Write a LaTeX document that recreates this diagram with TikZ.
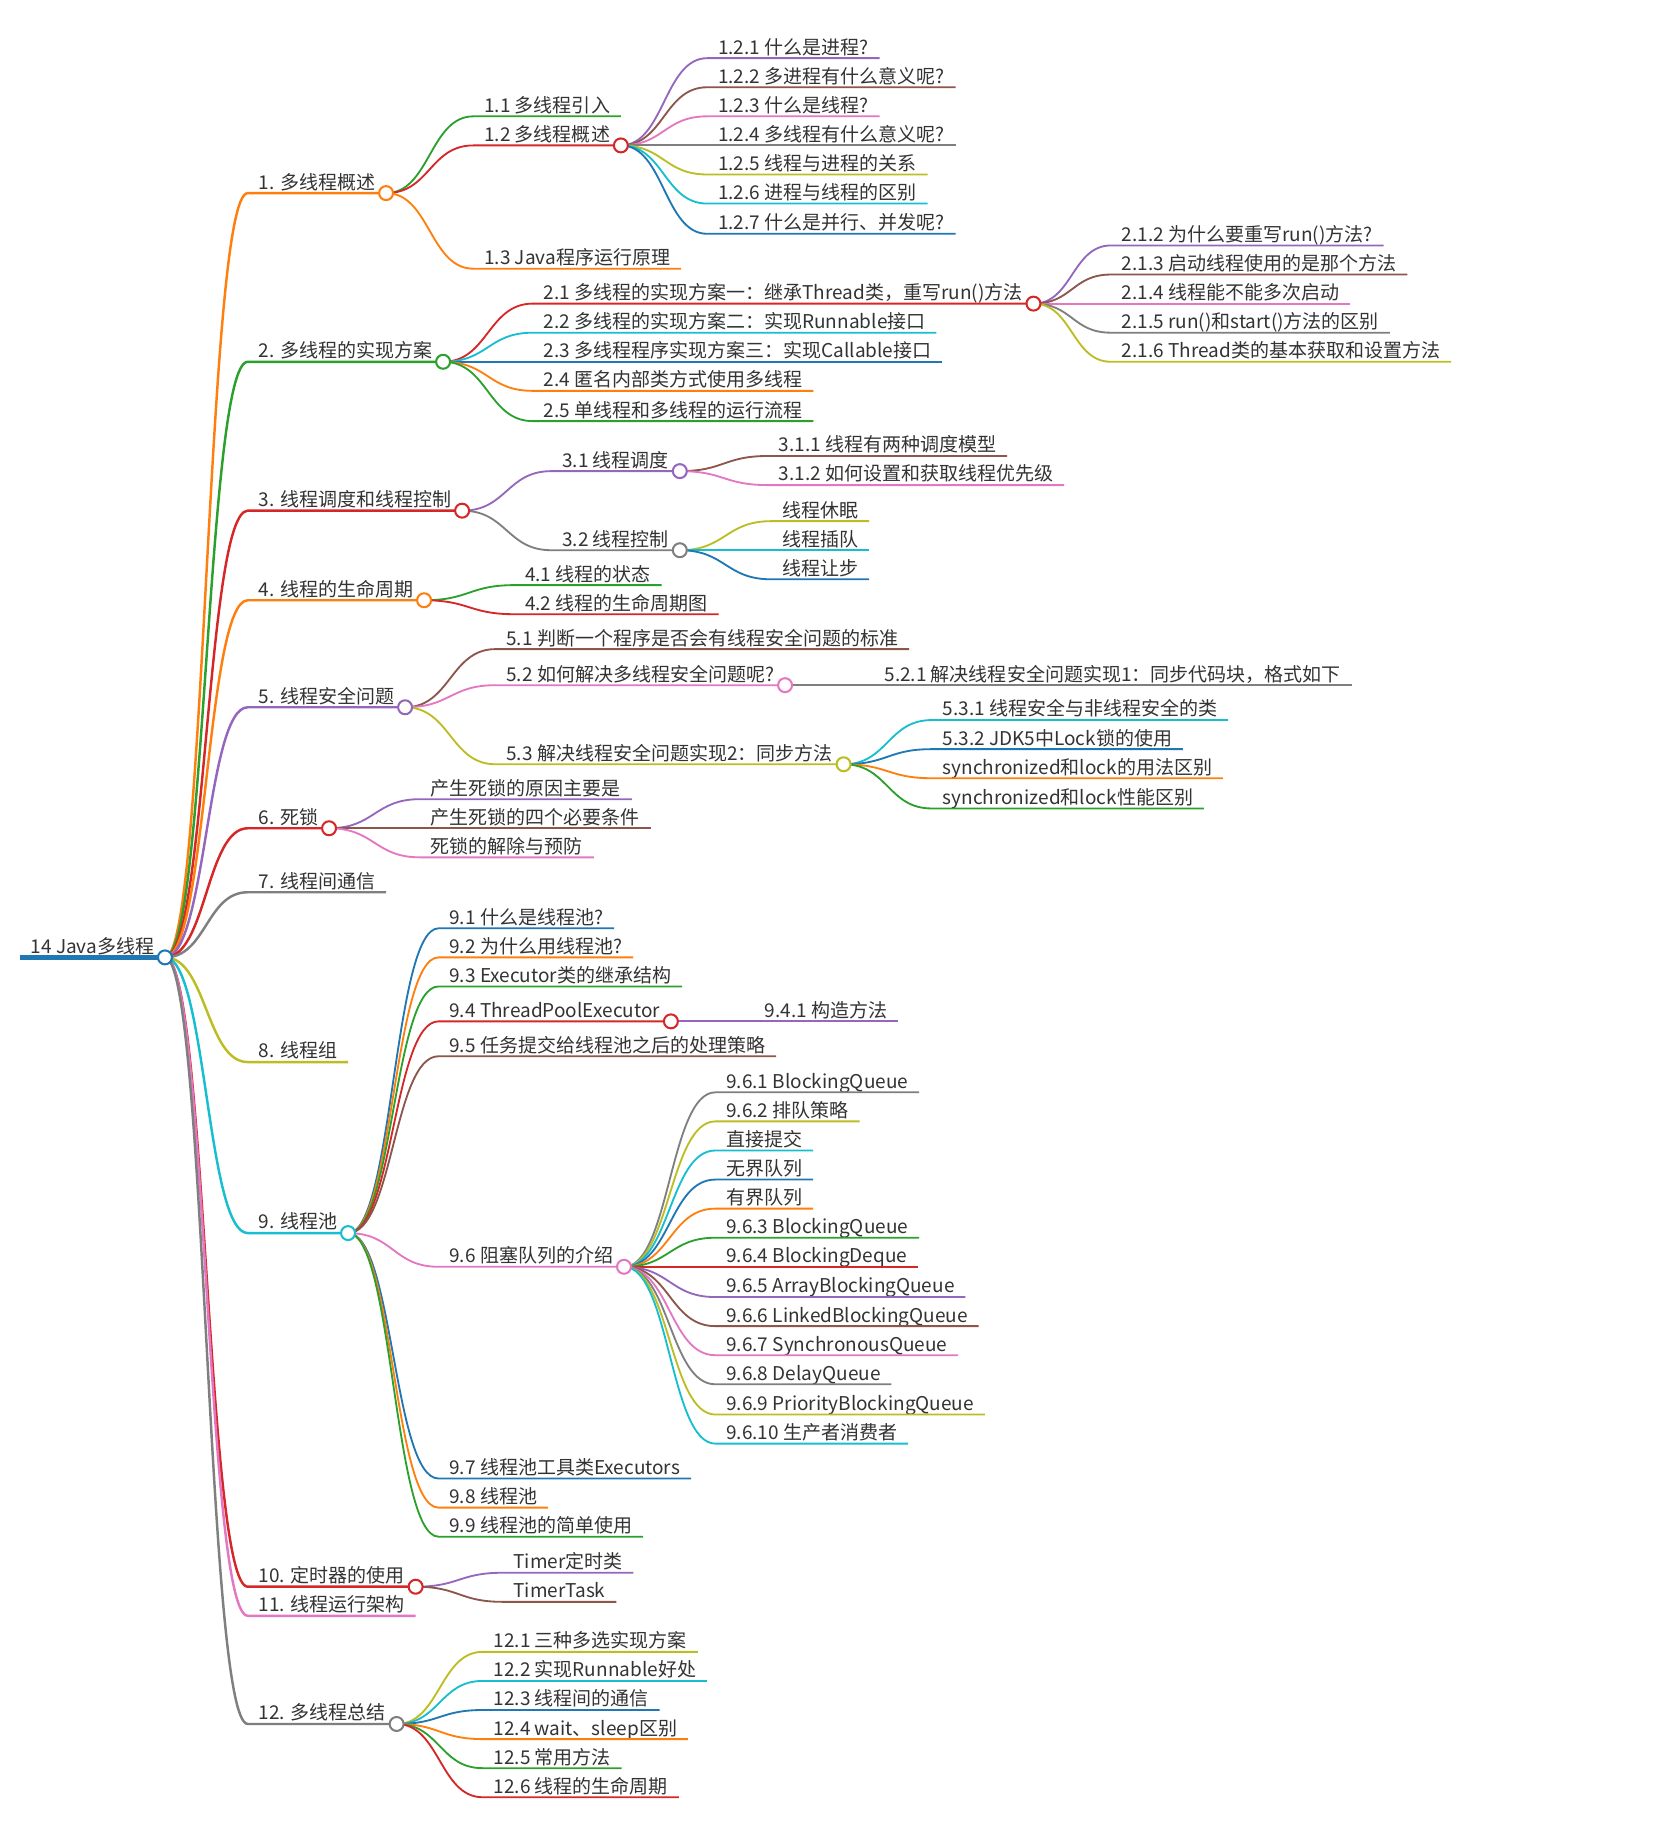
\documentclass[tikz,border=0pt]{standalone}
\usepackage{fontspec}
\setmainfont{Noto Sans CJK SC}
\usepackage{tikz}
\usetikzlibrary{calc}
\definecolor{tblue}{HTML}{1F77B4}
\definecolor{torange}{HTML}{FF7F0E}
\definecolor{tgreen}{HTML}{2CA02C}
\definecolor{tred}{HTML}{D62728}
\definecolor{tpurple}{HTML}{9467BD}
\definecolor{tbrown}{HTML}{8C564B}
\definecolor{tpink}{HTML}{E377C2}
\definecolor{tgray}{HTML}{7F7F7F}
\definecolor{tolive}{HTML}{BCBD22}
\definecolor{tcyan}{HTML}{17BECF}
\definecolor{inkgray}{HTML}{333333}

\begin{document}
\begin{tikzpicture}[x=0.02cm, y=-0.02cm,
    topic/.style={anchor=south west, inner xsep=0.18cm, inner ysep=0.6pt,
                  text depth=0.12em, text=inkgray, font=\fontsize{9.3}{11}\selectfont},
    twig/.style={draw=#1, line width=0.9pt},
    knob/.style={draw=#1, fill=white, line width=1pt},
    branch/.style={to path={let \p1=(\tikztostart), \p2=(\tikztotarget),
                   \n1={0.5*(\x2-\x1)} in
                   .. controls +(\n1,0pt) and +(-\n1,0pt) .. (\tikztotarget)}}
  ]
  \path[fill=white] (0,0) rectangle (1425,1568);
  \useasboundingbox (0,0) rectangle (1425,1568);

  % root and first level
  \node[topic] (java) at (17,823)  {14 Java多线程};
  \node[topic] (t1)  at (213,166)  {1. 多线程概述};
  \node[topic] (t2)  at (213,311)  {2. 多线程的实现方案};
  \node[topic] (t3)  at (213,439)  {3. 线程调度和线程控制};
  \node[topic] (t4)  at (213,516)  {4. 线程的生命周期};
  \node[topic] (t5)  at (213,608)  {5. 线程安全问题};
  \node[topic] (t6)  at (213,712)  {6. 死锁};
  \node[topic] (t7)  at (213,767)  {7. 线程间通信};
  \node[topic] (t8)  at (213,913)  {8. 线程组};
  \node[topic] (t9)  at (213,1060) {9. 线程池};
  \node[topic] (t10) at (213,1364) {10. 定时器的使用};
  \node[topic] (t11) at (213,1389) {11. 线程运行架构};
  \node[topic] (t12) at (213,1482) {12. 多线程总结};

  % 1
  \node[topic] (t1-1) at (407,100) {1.1 多线程引入};
  \node[topic] (t1-2) at (407,125) {1.2 多线程概述};
  \node[topic] (t1-3) at (407,231) {1.3 Java程序运行原理};
  \node[topic] (t1-2-1) at (608,50)  {1.2.1 什么是进程?};
  \node[topic] (t1-2-2) at (608,75)  {1.2.2 多进程有什么意义呢?};
  \node[topic] (t1-2-3) at (608,100) {1.2.3 什么是线程?};
  \node[topic] (t1-2-4) at (608,125) {1.2.4 多线程有什么意义呢?};
  \node[topic] (t1-2-5) at (608,150) {1.2.5 线程与进程的关系};
  \node[topic] (t1-2-6) at (608,175) {1.2.6 进程与线程的区别};
  \node[topic] (t1-2-7) at (608,201) {1.2.7 什么是并行、并发呢?};

  % 2
  \node[topic] (t2-1) at (458,261) {2.1 多线程的实现方案一：继承Thread类，重写run()方法};
  \node[topic] (t2-2) at (458,286) {2.2 多线程的实现方案二：实现Runnable接口};
  \node[topic] (t2-3) at (458,311) {2.3 多线程程序实现方案三：实现Callable接口};
  \node[topic] (t2-4) at (458,336) {2.4 匿名内部类方式使用多线程};
  \node[topic] (t2-5) at (458,362) {2.5 单线程和多线程的运行流程};
  \node[topic] (t2-1-2) at (955,211) {2.1.2 为什么要重写run()方法?};
  \node[topic] (t2-1-3) at (955,236) {2.1.3 启动线程使用的是那个方法};
  \node[topic] (t2-1-4) at (955,261) {2.1.4 线程能不能多次启动};
  \node[topic] (t2-1-5) at (955,286) {2.1.5 run()和start()方法的区别};
  \node[topic] (t2-1-6) at (955,311) {2.1.6 Thread类的基本获取和设置方法};

  % 3 and 4
  \node[topic] (t3-1) at (474,405) {3.1 线程调度};
  \node[topic] (t3-2) at (474,473) {3.2 线程控制};
  \node[topic] (t3-1-1) at (660,392) {3.1.1 线程有两种调度模型};
  \node[topic] (t3-1-2) at (660,417) {3.1.2 如何设置和获取线程优先级};
  \node[topic] (t3-2-1) at (663,448) {线程休眠};
  \node[topic] (t3-2-2) at (663,473) {线程插队};
  \node[topic] (t3-2-3) at (663,498) {线程让步};
  \node[topic] (t4-1) at (442,503) {4.1 线程的状态};
  \node[topic] (t4-2) at (442,528) {4.2 线程的生命周期图};

  % 5 and 6
  \node[topic] (t5-1) at (426,558) {5.1 判断一个程序是否会有线程安全问题的标准};
  \node[topic] (t5-2) at (426,589) {5.2 如何解决多线程安全问题呢?};
  \node[topic] (t5-3) at (426,657) {5.3 解决线程安全问题实现2：同步方法};
  \node[topic] (t5-2-1) at (751,589) {5.2.1 解决线程安全问题实现1：同步代码块，格式如下};
  \node[topic] (t5-3-1) at (801,619) {5.3.1 线程安全与非线程安全的类};
  \node[topic] (t5-3-2) at (801,644) {5.3.2 JDK5中Lock锁的使用};
  \node[topic] (t5-3-3) at (801,669) {synchronized和lock的用法区别};
  \node[topic] (t5-3-4) at (801,695) {synchronized和lock性能区别};
  \node[topic] (t6-1) at (361,687) {产生死锁的原因主要是};
  \node[topic] (t6-2) at (361,712) {产生死锁的四个必要条件};
  \node[topic] (t6-3) at (361,737) {死锁的解除与预防};

  % 9
  \node[topic] (t9-1) at (377,798)  {9.1 什么是线程池?};
  \node[topic] (t9-2) at (377,823)  {9.2 为什么用线程池?};
  \node[topic] (t9-3) at (377,848)  {9.3 Executor类的继承结构};
  \node[topic] (t9-4) at (377,878)  {9.4 ThreadPoolExecutor};
  \node[topic] (t9-5) at (377,908)  {9.5 任务提交给线程池之后的处理策略};
  \node[topic] (t9-6) at (377,1089) {9.6 阻塞队列的介绍};
  \node[topic] (t9-7) at (377,1271) {9.7 线程池工具类Executors};
  \node[topic] (t9-8) at (377,1296) {9.8 线程池};
  \node[topic] (t9-9) at (377,1321) {9.9 线程池的简单使用};
  \node[topic] (t9-4-1) at (648,878) {9.4.1 构造方法};
  \node[topic] (t9-6-1)  at (615,939)  {9.6.1 BlockingQueue};
  \node[topic] (t9-6-2)  at (615,964)  {9.6.2 排队策略};
  \node[topic] (t9-6-3)  at (615,989)  {直接提交};
  \node[topic] (t9-6-4)  at (615,1014) {无界队列};
  \node[topic] (t9-6-5)  at (615,1039) {有界队列};
  \node[topic] (t9-6-6)  at (615,1064) {9.6.3 BlockingQueue};
  \node[topic] (t9-6-7)  at (615,1089) {9.6.4 BlockingDeque};
  \node[topic] (t9-6-8)  at (615,1115) {9.6.5 ArrayBlockingQueue};
  \node[topic] (t9-6-9)  at (615,1140) {9.6.6 LinkedBlockingQueue};
  \node[topic] (t9-6-10) at (615,1165) {9.6.7 SynchronousQueue};
  \node[topic] (t9-6-11) at (615,1190) {9.6.8 DelayQueue};
  \node[topic] (t9-6-12) at (615,1216) {9.6.9 PriorityBlockingQueue};
  \node[topic] (t9-6-13) at (615,1241) {9.6.10 生产者消费者};

  % 10 and 12
  \node[topic] (t10-1) at (432,1352) {Timer定时类};
  \node[topic] (t10-2) at (432,1377) {TimerTask};
  \node[topic] (t12-1) at (415,1420) {12.1 三种多选实现方案};
  \node[topic] (t12-2) at (415,1445) {12.2 实现Runnable好处};
  \node[topic] (t12-3) at (415,1470) {12.3 线程间的通信};
  \node[topic] (t12-4) at (415,1495) {12.4 wait、sleep区别};
  \node[topic] (t12-5) at (415,1520) {12.5 常用方法};
  \node[topic] (t12-6) at (415,1545) {12.6 线程的生命周期};

  % connectors
  \draw[tblue, line width=2.2pt] (java.south west) -- (java.south east);
  \foreach \dst/\hue in {t1/torange, t2/tgreen, t3/tred, t4/torange, t5/tpurple,
      t6/tred, t7/tgray, t8/tolive, t9/tcyan, t10/tred, t11/tpink, t12/tgray}
    \draw[twig=\hue, line width=1.2pt] (java.south east) to[branch] (\dst.south west) -- (\dst.south east);
  \foreach \src/\dst/\hue in {
      t1/t1-1/tgreen, t1/t1-2/tred, t1/t1-3/torange,
      t1-2/t1-2-1/tpurple, t1-2/t1-2-2/tbrown, t1-2/t1-2-3/tpink, t1-2/t1-2-4/tgray,
      t1-2/t1-2-5/tolive, t1-2/t1-2-6/tcyan, t1-2/t1-2-7/tblue,
      t2/t2-1/tred, t2/t2-2/tcyan, t2/t2-3/tblue, t2/t2-4/torange, t2/t2-5/tgreen,
      t2-1/t2-1-2/tpurple, t2-1/t2-1-3/tbrown, t2-1/t2-1-4/tpink, t2-1/t2-1-5/tgray,
      t2-1/t2-1-6/tolive,
      t3/t3-1/tpurple, t3/t3-2/tgray,
      t3-1/t3-1-1/tbrown, t3-1/t3-1-2/tpink,
      t3-2/t3-2-1/tolive, t3-2/t3-2-2/tcyan, t3-2/t3-2-3/tblue,
      t4/t4-1/tgreen, t4/t4-2/tred,
      t5/t5-1/tbrown, t5/t5-2/tpink, t5/t5-3/tolive,
      t5-2/t5-2-1/tgray,
      t5-3/t5-3-1/tcyan, t5-3/t5-3-2/tblue, t5-3/t5-3-3/torange, t5-3/t5-3-4/tgreen,
      t6/t6-1/tpurple, t6/t6-2/tbrown, t6/t6-3/tpink,
      t9/t9-1/tblue, t9/t9-2/torange, t9/t9-3/tgreen, t9/t9-4/tred, t9/t9-5/tbrown,
      t9/t9-6/tpink, t9/t9-7/tblue, t9/t9-8/torange, t9/t9-9/tgreen,
      t9-4/t9-4-1/tpurple,
      t9-6/t9-6-1/tgray, t9-6/t9-6-2/tolive, t9-6/t9-6-3/tcyan, t9-6/t9-6-4/tblue,
      t9-6/t9-6-5/torange, t9-6/t9-6-6/tgreen, t9-6/t9-6-7/tred, t9-6/t9-6-8/tpurple,
      t9-6/t9-6-9/tbrown, t9-6/t9-6-10/tpink, t9-6/t9-6-11/tgray, t9-6/t9-6-12/tolive,
      t9-6/t9-6-13/tcyan,
      t10/t10-1/tpurple, t10/t10-2/tbrown,
      t12/t12-1/tolive, t12/t12-2/tcyan, t12/t12-3/tblue, t12/t12-4/torange,
      t12/t12-5/tgreen, t12/t12-6/tred}
    \draw[twig=\hue] (\src.south east) to[branch] (\dst.south west) -- (\dst.south east);

  % open ends of the parents
  \foreach \n/\hue in {java/tblue, t1/torange, t1-2/tred, t2/tgreen, t2-1/tred,
      t3/tred, t3-1/tpurple, t3-2/tgray, t4/torange, t5/tpurple, t5-2/tpink,
      t5-3/tolive, t6/tred, t9/tcyan, t9-4/tred, t9-6/tpink, t10/tred, t12/tgray}
    \draw[knob=\hue] (\n.south east) circle[radius=0.12cm];
\end{tikzpicture}
\end{document}
